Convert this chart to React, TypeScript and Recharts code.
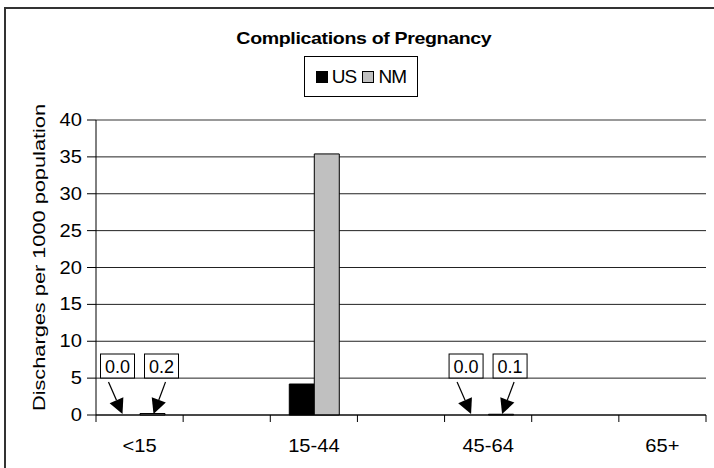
import React from "react";
import { BarChart, Bar, XAxis, YAxis, CartesianGrid, ReferenceLine, LabelList } from "recharts";

// Excel-style column chart: discharges per 1000 population by age group.
const CATEGORIES = ["<15", "", "15-44", "", "45-64", "", "65+"];
const US_VALUES = [0.0, null, 4.2, null, 0.0, null, null];
const NM_VALUES = [0.2, null, 35.4, null, 0.1, null, null];
const Y_TICKS = [0, 5, 10, 15, 20, 25, 30, 35, 40];
const SERIES = ["US", "NM"];
const TITLE = "Complications of Pregnancy";
const Y_LABEL = "Discharges per 1000 population";

const W = 714;
const H = 468;
const MARGIN = { top: 120, right: 8, bottom: 23, left: 0 };
const Y_AXIS_W = 96;
const PLOT_W = W - Y_AXIS_W - MARGIN.right;
const BAND = PLOT_W / CATEGORIES.length;
const FONT = "'Liberation Sans', Arial, Helvetica, sans-serif";
const COLORS: Record<string, string> = { US: "#000000", NM: "#C0C0C0" };

const data = CATEGORIES.map((cat, i) => ({ cat, US: US_VALUES[i], NM: NM_VALUES[i] }));

function YTick(props: any) {
  const { x, y, payload } = props;
  return (
    <text
      transform={`translate(${x},${y}) scale(1.15,1)`}
      textAnchor="end"
      dominantBaseline="central"
      fontFamily={FONT}
      fontSize={17.5}
      fill="#000"
    >
      {payload.value}
    </text>
  );
}

function XTick(props: any) {
  const { x, y, payload, index } = props;
  const left = x - BAND / 2;
  return (
    <g>
      <line x1={left} x2={left} y1={y} y2={y + 7} stroke="#000" />
      {index === CATEGORIES.length - 1 && (
        <line x1={x + BAND / 2} x2={x + BAND / 2} y1={y} y2={y + 7} stroke="#000" />
      )}
      {payload.value && (
        <text
          transform={`translate(${x},${y + 37}) scale(1.15,1)`}
          textAnchor="middle"
          fontFamily={FONT}
          fontSize={17.5}
          fill="#000"
        >
          {payload.value}
        </text>
      )}
    </g>
  );
}

function YLabel(props: any) {
  const vb = props.viewBox || {};
  const cy = vb.y + vb.height / 2 - 10;
  return (
    <text
      transform={`translate(45,${cy}) rotate(-90) scale(1.28,1)`}
      textAnchor="middle"
      fontFamily={FONT}
      fontSize={17}
      fill="#000"
    >
      {Y_LABEL}
    </text>
  );
}

// boxed value with an arrow pointing at a near-zero bar
function Callout({ cx, base, value, side }: { cx: number; base: number; value: number; side: number }) {
  const boxW = 34;
  const boxH = 24;
  const boxCx = cx + (side < 0 ? -10 : 9);
  const boxTop = base - 61;
  const sx = boxCx + (side < 0 ? -9 : 4);
  const sy = boxTop + boxH + 4;
  const tx = cx + (side < 0 ? -5 : 1);
  const ty = base - 1;
  const dx = tx - sx;
  const dy = ty - sy;
  const len = Math.hypot(dx, dy);
  const ux = dx / len;
  const uy = dy / len;
  const hl = 15;
  const hw = 7.5;
  const bx = tx - ux * hl;
  const by = ty - uy * hl;
  return (
    <g>
      <rect x={boxCx - boxW / 2} y={boxTop} width={boxW} height={boxH} fill="#fff" stroke="#000" strokeWidth={1} />
      <text x={boxCx} y={boxTop + boxH / 2 + 6.5} textAnchor="middle" fontFamily={FONT} fontSize={18} fill="#000">
        {value.toFixed(1)}
      </text>
      <line x1={sx} y1={sy} x2={bx} y2={by} stroke="#000" strokeWidth={1.2} />
      <polygon
        points={`${tx},${ty} ${bx - uy * hw},${by + ux * hw} ${bx + uy * hw},${by - ux * hw}`}
        fill="#000"
      />
    </g>
  );
}

// drawn from the NM bar; the US bar sits right next to it (barGap 0).
// LabelList skips null rows, so find the category from the bar's position.
function callouts(props: any) {
  const { x, y, width, height } = props;
  const w = Number(width);
  const base = Number(y) + Number(height);
  const idx = Math.round((Number(x) - Y_AXIS_W - BAND / 2) / BAND);
  const nm = NM_VALUES[idx];
  const us = US_VALUES[idx];
  return (
    <g>
      {us != null && us < 1 && <Callout cx={Number(x) - w / 2} base={base} value={us} side={-1} />}
      {nm != null && nm < 1 && <Callout cx={Number(x) + w / 2} base={base} value={nm} side={1} />}
    </g>
  );
}

export default function App() {
  return (
    <div style={{ position: "absolute", left: 0, top: 0, width: W, height: H, overflow: "hidden", background: "#fff" }}>
      <div
        style={{
          position: "absolute",
          left: 4,
          top: 7,
          width: W + 40,
          height: H + 40,
          borderTop: "2px solid #333",
          borderLeft: "2px solid #333",
          boxSizing: "border-box",
        }}
      />
      <div
        style={{
          position: "absolute",
          left: 164,
          top: 29,
          width: 400,
          textAlign: "center",
          fontFamily: FONT,
          fontWeight: "bold",
          fontSize: 17,
          lineHeight: "20px",
        }}
      >
        <span style={{ display: "inline-block", transform: "scaleX(1.15)", letterSpacing: -0.3 }}>{TITLE}</span>
      </div>
      <div
        style={{
          position: "absolute",
          left: 304,
          top: 56,
          width: 114,
          height: 41,
          border: "1px solid #000",
          boxSizing: "border-box",
          display: "flex",
          alignItems: "center",
          justifyContent: "center",
          fontFamily: FONT,
          fontSize: 19,
        }}
      >
        {SERIES.map((s) => (
          <span key={s} style={{ display: "inline-flex", alignItems: "center", margin: "0 3px" }}>
            <span
              style={{
                display: "inline-block",
                width: 10,
                height: 10,
                background: COLORS[s],
                border: "1px solid #000",
                marginRight: 4,
              }}
            />
            <span style={{ display: "inline-block", letterSpacing: -0.8 }}>{s}</span>
          </span>
        ))}
      </div>
      <div style={{ position: "absolute", left: 0, top: 0 }}>
        <BarChart width={W} height={H} data={data} margin={MARGIN} barGap={0}>
          <CartesianGrid vertical={false} stroke="#222" />
          <ReferenceLine y={40} stroke="#999" strokeWidth={2} />
          <XAxis
            dataKey="cat"
            height={30}
            interval={0}
            axisLine={{ stroke: "#000" }}
            tickLine={false}
            tickSize={0}
            tickMargin={0}
            tick={<XTick />}
          />
          <YAxis
            domain={[0, 40]}
            ticks={Y_TICKS}
            width={Y_AXIS_W}
            interval={0}
            axisLine={{ stroke: "#000" }}
            tickLine={{ stroke: "#000" }}
            tickSize={9}
            tickMargin={5}
            tick={<YTick />}
            label={<YLabel />}
          />
          <YAxis
            yAxisId="frame"
            orientation="right"
            width={0}
            domain={[0, 40]}
            tick={false}
            tickLine={false}
            axisLine={{ stroke: "#999", strokeWidth: 2 }}
          />
          {SERIES.map((s) => (
            <Bar key={s} dataKey={s} fill={COLORS[s]} stroke="#000" strokeWidth={1} barSize={25} isAnimationActive={false}>
              {s === "NM" && <LabelList dataKey={s} content={callouts} />}
            </Bar>
          ))}
        </BarChart>
      </div>
    </div>
  );
}
